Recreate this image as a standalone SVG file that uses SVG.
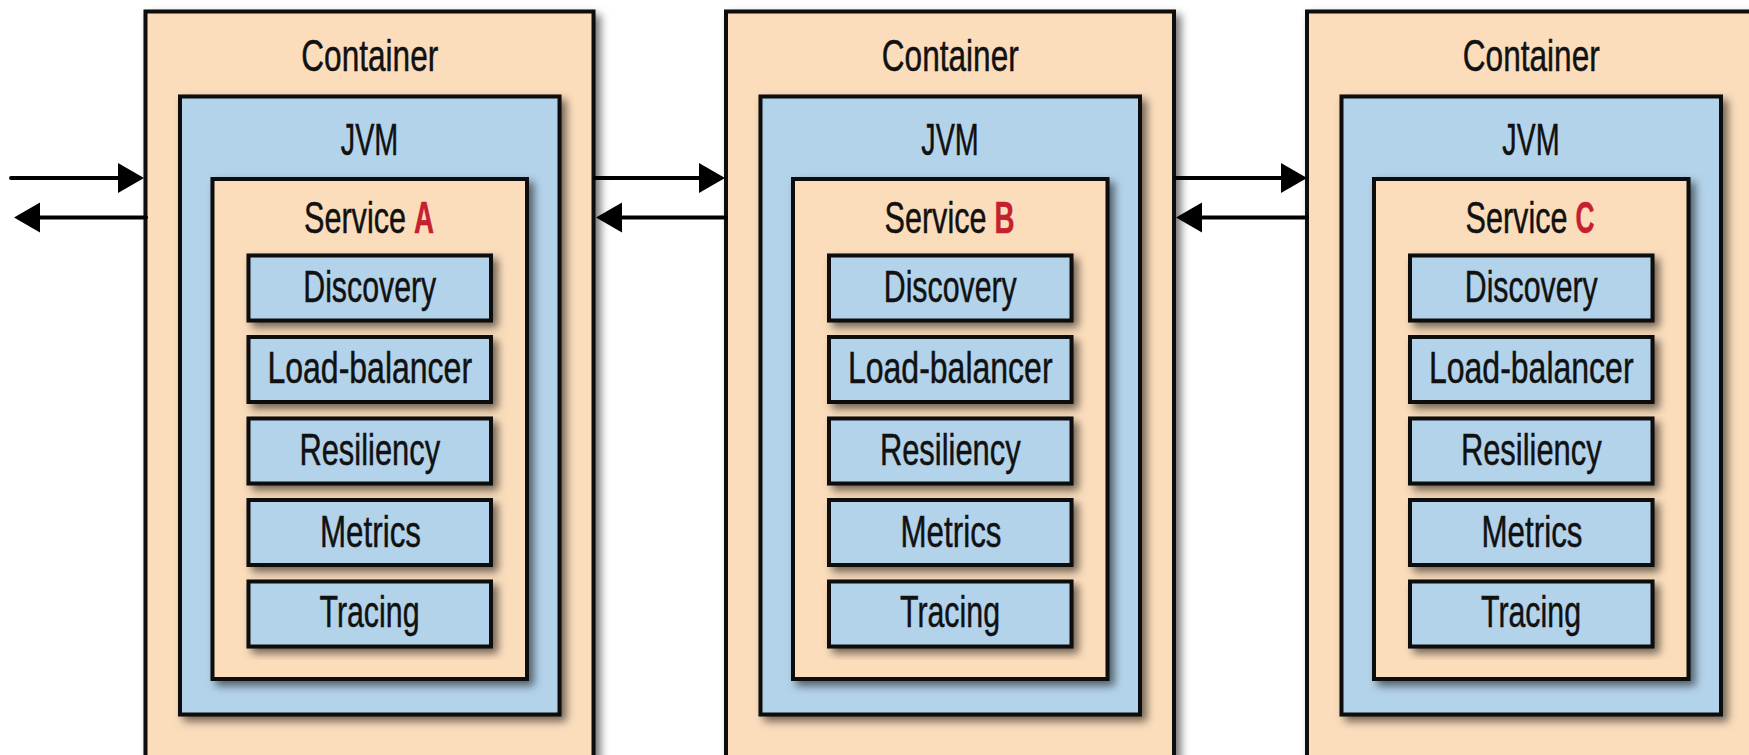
<svg xmlns="http://www.w3.org/2000/svg" width="1749" height="755" viewBox="0 0 1749 755">
<style>
.box{stroke:#0d0d0d;stroke-width:4;filter:url(#sh)}
.peach{fill:#FBDDBC}
.blue{fill:#B3D3EA}
.t{font-family:"Liberation Sans Narrow","Liberation Sans",Arial,sans-serif;font-size:44px;fill:#111;stroke:#111;stroke-width:0.5}
.m{text-anchor:middle}
.red{fill:#C4202E;stroke:#C4202E;font-weight:bold}
.conn{stroke:#000;stroke-width:4;stroke-linecap:round;fill:none;marker-end:url(#ah)}
</style>
<defs>
<filter id="sh" x="-10%" y="-10%" width="130%" height="130%">
<feDropShadow dx="5" dy="5" stdDeviation="4" flood-color="#000" flood-opacity="0.55"/>
</filter>
<marker id="ah" markerUnits="userSpaceOnUse" markerWidth="27" markerHeight="31" refX="0" refY="15" orient="auto" overflow="visible">
<path d="M0,0 L26,15 L0,30 z" fill="#000"/>
</marker>
<g id="stack">
<rect class="box peach" x="145.5" y="11.5" width="448" height="800"/>
<text class="t m" x="369.75" y="70.5" textLength="137" lengthAdjust="spacingAndGlyphs">Container</text>
<rect class="box blue" x="180" y="96.5" width="379.5" height="618"/>
<text class="t m" x="369.5" y="155" textLength="57.5" lengthAdjust="spacingAndGlyphs">JVM</text>
<rect class="box peach" x="212.5" y="179" width="314.5" height="500"/>
<text class="t" x="304" y="233" textLength="102" lengthAdjust="spacingAndGlyphs">Service</text>
<rect class="box blue" x="248.5" y="255.5" width="242.5" height="65"/>
<text class="t m" x="369.75" y="301.7" textLength="133" lengthAdjust="spacingAndGlyphs">Discovery</text>
<rect class="box blue" x="248.5" y="337" width="242.5" height="65"/>
<text class="t m" x="369.75" y="383.3" textLength="204.6" lengthAdjust="spacingAndGlyphs">Load-balancer</text>
<rect class="box blue" x="248.5" y="418.5" width="242.5" height="65"/>
<text class="t m" x="369.75" y="465" textLength="140.7" lengthAdjust="spacingAndGlyphs">Resiliency</text>
<rect class="box blue" x="248.5" y="500" width="242.5" height="65"/>
<text class="t m" x="370.5" y="546.7" textLength="101" lengthAdjust="spacingAndGlyphs">Metrics</text>
<rect class="box blue" x="248.5" y="581.5" width="242.5" height="65"/>
<text class="t m" x="369.5" y="626.7" textLength="100" lengthAdjust="spacingAndGlyphs">Tracing</text>
</g>
</defs>
<rect width="1749" height="755" fill="#fff"/>
<g id="container-a">
<use href="#stack"/>
<text class="t red" x="414" y="233" textLength="20" lengthAdjust="spacingAndGlyphs">A</text>
</g>
<g id="container-b" transform="translate(580.5,0)">
<use href="#stack"/>
<text class="t red" x="414" y="233" textLength="20" lengthAdjust="spacingAndGlyphs">B</text>
</g>
<g id="container-c" transform="translate(1161.5,0)">
<use href="#stack"/>
<text class="t red" x="414" y="233" textLength="19" lengthAdjust="spacingAndGlyphs">C</text>
</g>
<g id="connectors">
<line class="conn" x1="11" y1="178" x2="118" y2="178"/>
<line class="conn" x1="146" y1="217.5" x2="40" y2="217.5"/>
<line class="conn" x1="595" y1="178" x2="699" y2="178"/>
<line class="conn" x1="726" y1="217.5" x2="622" y2="217.5"/>
<line class="conn" x1="1176" y1="178" x2="1281" y2="178"/>
<line class="conn" x1="1307" y1="217.5" x2="1202" y2="217.5"/>
</g>
</svg>
